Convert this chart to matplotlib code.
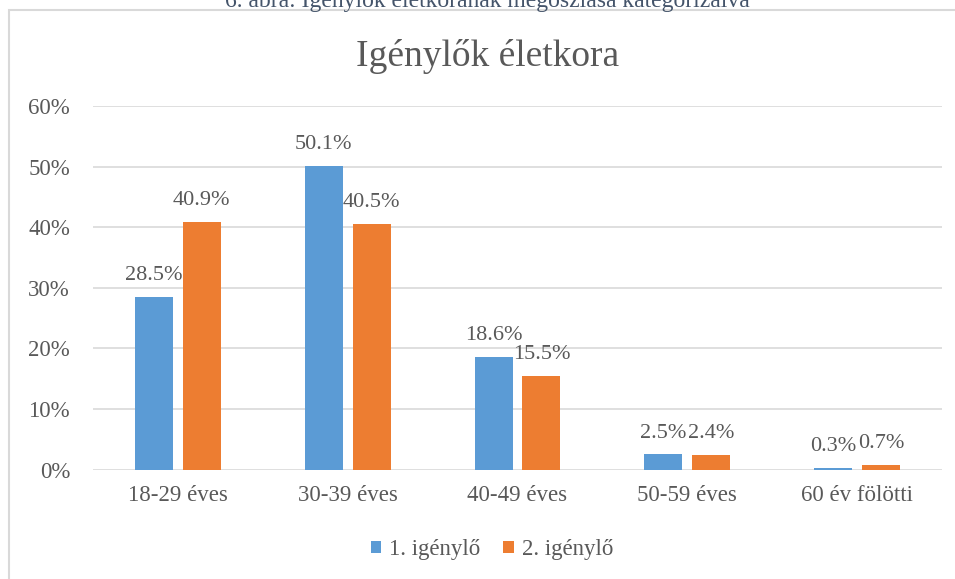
import matplotlib.pyplot as plt
import matplotlib.patches as patches
from matplotlib.ticker import FuncFormatter

categories = ["18-29 éves", "30-39 éves", "40-49 éves", "50-59 éves", "60 év fölötti"]
series_names = ["1. igénylő", "2. igénylő"]
first_applicant = [28.5, 50.1, 18.6, 2.5, 0.3]
second_applicant = [40.9, 40.5, 15.5, 2.4, 0.7]
yticks = [0, 10, 20, 30, 40, 50, 60]

plt.rcParams['font.family'] = ['Liberation Serif', 'DejaVu Serif']
txt = "#595959"
grid = "#D9D9D9"
colors = ["#5B9BD5", "#ED7D31"]

fig = plt.figure(figsize=(9.55, 5.79), dpi=100)
ax = fig.add_axes([93/955, 1 - 469.5/579, (942-93)/955, (469.5-106)/579])

# chart-area frame (cut off at right and bottom in the original)
fig.patches.append(patches.Rectangle((8.5/955, -0.1), 1.2, 1 - 10/579 + 0.1,
                                     transform=fig.transFigure, fill=False,
                                     edgecolor=grid, linewidth=1.5))

x = list(range(len(categories)))
w = 0.224
off = 0.141
b1 = ax.bar([i - off for i in x], first_applicant, w, color=colors[0], label=series_names[0], zorder=3)
b2 = ax.bar([i + off for i in x], second_applicant, w, color=colors[1], label=series_names[1], zorder=3)
for b in (b1, b2):
    ax.bar_label(b, fmt='%.1f%%', padding=8.5, fontsize=16, color=txt)

ax.set_xlim(-0.5, len(categories) - 0.5)
ax.set_ylim(0, 60)
ax.set_yticks(yticks)
ax.yaxis.set_major_formatter(FuncFormatter(lambda v, p: f"{v:.0f}%"))
ax.set_xticks(x)
ax.set_xticklabels(categories)
ax.tick_params(axis='y', length=0, pad=16.5, labelsize=16.5, labelcolor=txt)
ax.tick_params(axis='x', length=0, pad=11, labelsize=16.5, labelcolor=txt)
ax.grid(axis='y', color=grid, linewidth=1.2, zorder=0)
ax.set_axisbelow(True)
for s in ax.spines.values():
    s.set_visible(False)

fig.text(488/955, 1 - 66/579, "Igénylők életkora", fontsize=27, color=txt,
         ha='center', va='baseline')

# figure caption above the chart, partly cut off as in the source
fig.text(487/955, 1 - 7/579, "6. ábra: Igénylők életkorának megoszlása kategorizálva",
         fontsize=17, color="#44546A", ha='center', va='baseline')

fig.legend(loc='center', bbox_to_anchor=(492/955, 1 - 550/579), ncol=2, frameon=False,
           fontsize=16.5, labelcolor=txt, handlelength=0.45, handleheight=0.45,
           handletextpad=0.35, columnspacing=1.0)

fig.savefig("out.png", dpi=100)
